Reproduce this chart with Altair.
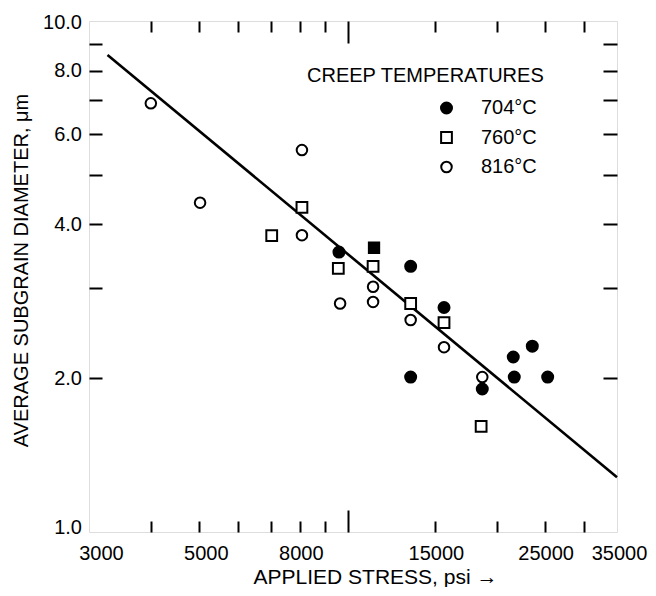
import altair as alt
import pandas as pd

# --- data ---
t704_stress = [9600, 13400, 13400, 15650, 18700, 21600, 23600, 21700, 25350]
t704_diam = [3.53, 3.31, 2.01, 2.75, 1.905, 2.20, 2.31, 2.01, 2.01]

t760_stress = [7020, 8080, 9570, 11250, 13400, 15650, 18600]
t760_diam = [3.80, 4.32, 3.28, 3.31, 2.80, 2.57, 1.61]

t816_stress = [4000, 5030, 8080, 8080, 9650, 11250, 11250, 13400, 15650, 18700]
t816_diam = [6.90, 4.41, 5.59, 3.81, 2.80, 3.02, 2.82, 2.60, 2.30, 2.01]

both_stress = [11300]
both_diam = [3.60]

fit_stress = [3270, 35000]
fit_diam = [8.58, 1.28]

cats = ["704°C", "760°C", "816°C", "704°C + 760°C"]
x_label_values = [3000, 5000, 8000, 15000, 25000, 35000]
x_minor_ticks = [4000, 5000, 6000, 7000, 8000, 9000, 15000, 20000, 25000, 30000]
x_major_ticks = [10000]
y_label_values = [1, 2, 4, 6, 8, 10]
y_ticks = [2, 3, 4, 5, 6, 7, 8, 9]

rows = []
for s, d in zip(t704_stress, t704_diam):
    rows.append({"stress": s, "diam": d, "temp": cats[0]})
for s, d in zip(t760_stress, t760_diam):
    rows.append({"stress": s, "diam": d, "temp": cats[1]})
for s, d in zip(t816_stress, t816_diam):
    rows.append({"stress": s, "diam": d, "temp": cats[2]})
for s, d in zip(both_stress, both_diam):
    rows.append({"stress": s, "diam": d, "temp": cats[3]})
pts = pd.DataFrame(rows)
fit = pd.DataFrame({"stress": fit_stress, "diam": fit_diam})

FONT = "Liberation Sans"
xscale = alt.Scale(type="log", domain=[3000, 35000], nice=False)
yscale = alt.Scale(type="log", domain=[1, 10], nice=False)

main_x_axis = alt.Axis(
    values=x_label_values, format="d", ticks=False, tickSize=0, domain=False, grid=False,
    labelFlush=False, labelOverlap=False, labelPadding=11.5, labelFontSize=20,
    labelOffset={"condition": [
        {"test": "datum.value == 3000", "value": 12},
        {"test": "datum.value == 5000", "value": 7},
        {"test": "datum.value == 35000", "value": 2}], "value": 1},
    title="APPLIED STRESS, psi →", titleFontSize=21, titleFontWeight="normal",
    titleX=286, titleY=51, titleBaseline="alphabetic", titleAlign="center",
)
main_y_axis = alt.Axis(
    values=y_label_values, format=".1f", ticks=False, tickSize=0, domain=False, grid=False,
    labelFlush=False, labelOverlap=False, labelPadding=7.5, labelFontSize=20,
    labelOffset={"condition": [
        {"test": "datum.value == 1", "value": -5},
        {"test": "datum.value == 10", "value": 1.5}], "value": 0},
    title="AVERAGE SUBGRAIN DIAMETER, μm", titleFontSize=20, titleFontWeight="normal",
    titleX=-61.5, titleY=249, titleAngle=270, titleBaseline="alphabetic", titleAlign="center",
)


def tick_axis(orient, values, size):
    return alt.Axis(orient=orient, values=values, ticks=True, tickSize=size, offset=-size,
                    tickWidth=2, tickColor="black", domain=False, labels=False, grid=False,
                    title="")


line = alt.Chart(fit).mark_line(color="black", strokeWidth=2.6).encode(
    x=alt.X("stress:Q", scale=xscale, axis=None),
    y=alt.Y("diam:Q", scale=yscale, axis=None),
)

points = alt.Chart(pts).mark_point(filled=True, stroke="black", strokeWidth=2, opacity=1).encode(
    x=alt.X("stress:Q", scale=xscale, axis=main_x_axis),
    y=alt.Y("diam:Q", scale=yscale, axis=main_y_axis),
    shape=alt.Shape("temp:N", scale=alt.Scale(domain=cats, range=["circle", "square", "circle", "square"]),
                    legend=alt.Legend(
                        title="CREEP TEMPERATURES", orient="none", legendX=218, legendY=44.5,
                        padding=0, values=cats[:3], titleFontSize=20, titleFontWeight="normal",
                        titleFont=FONT, titleColor="black", titlePadding=12.5, titleLimit=400,
                        labelFont=FONT, labelFontSize=20, labelColor="black", labelLimit=300,
                        symbolOffset=129.5, labelOffset=24.5, rowPadding=9.5,
                        symbolStrokeColor="black", symbolStrokeWidth=2)),
    fill=alt.Fill("temp:N", scale=alt.Scale(domain=cats, range=["black", "white", "white", "black"])),
    size=alt.Size("temp:N", scale=alt.Scale(domain=cats, range=[121, 106, 121, 106])),
)

ticks_a = alt.Chart(fit).mark_point(opacity=0).encode(
    x=alt.X("stress:Q", scale=xscale, axis=tick_axis("bottom", x_minor_ticks, 11)),
    y=alt.Y("diam:Q", scale=yscale, axis=tick_axis("left", y_ticks, 13)),
)
ticks_b = alt.Chart(fit).mark_point(opacity=0).encode(
    x=alt.X("stress:Q", scale=xscale, axis=tick_axis("bottom", x_major_ticks, 22)),
    y=alt.Y("diam:Q", scale=yscale, axis=tick_axis("right", y_ticks, 14)),
)
ticks_c = alt.Chart(fit).mark_point(opacity=0).encode(
    x=alt.X("stress:Q", scale=xscale, axis=tick_axis("top", x_minor_ticks, 11)),
    y=alt.Y("diam:Q", scale=yscale, axis=None),
)
ticks_d = alt.Chart(fit).mark_point(opacity=0).encode(
    x=alt.X("stress:Q", scale=xscale, axis=tick_axis("top", x_major_ticks, 22)),
    y=alt.Y("diam:Q", scale=yscale, axis=None),
)

chart = alt.layer(line, points, ticks_a, ticks_b, ticks_c, ticks_d).resolve_axis(
    x="independent", y="independent"
).properties(
    width=528, height=511,
    padding={"left": 81, "top": 13, "right": 31, "bottom": 55},
    autosize=alt.AutoSizeParams(type="none"),
    background="white",
).configure_view(
    stroke="black", strokeWidth=2
).configure_axis(
    labelFont=FONT, titleFont=FONT, labelColor="black", titleColor="black", titleFontWeight="normal"
).configure(font=FONT)

chart.save("out.html", embed_options={"renderer": "svg", "actions": False})
